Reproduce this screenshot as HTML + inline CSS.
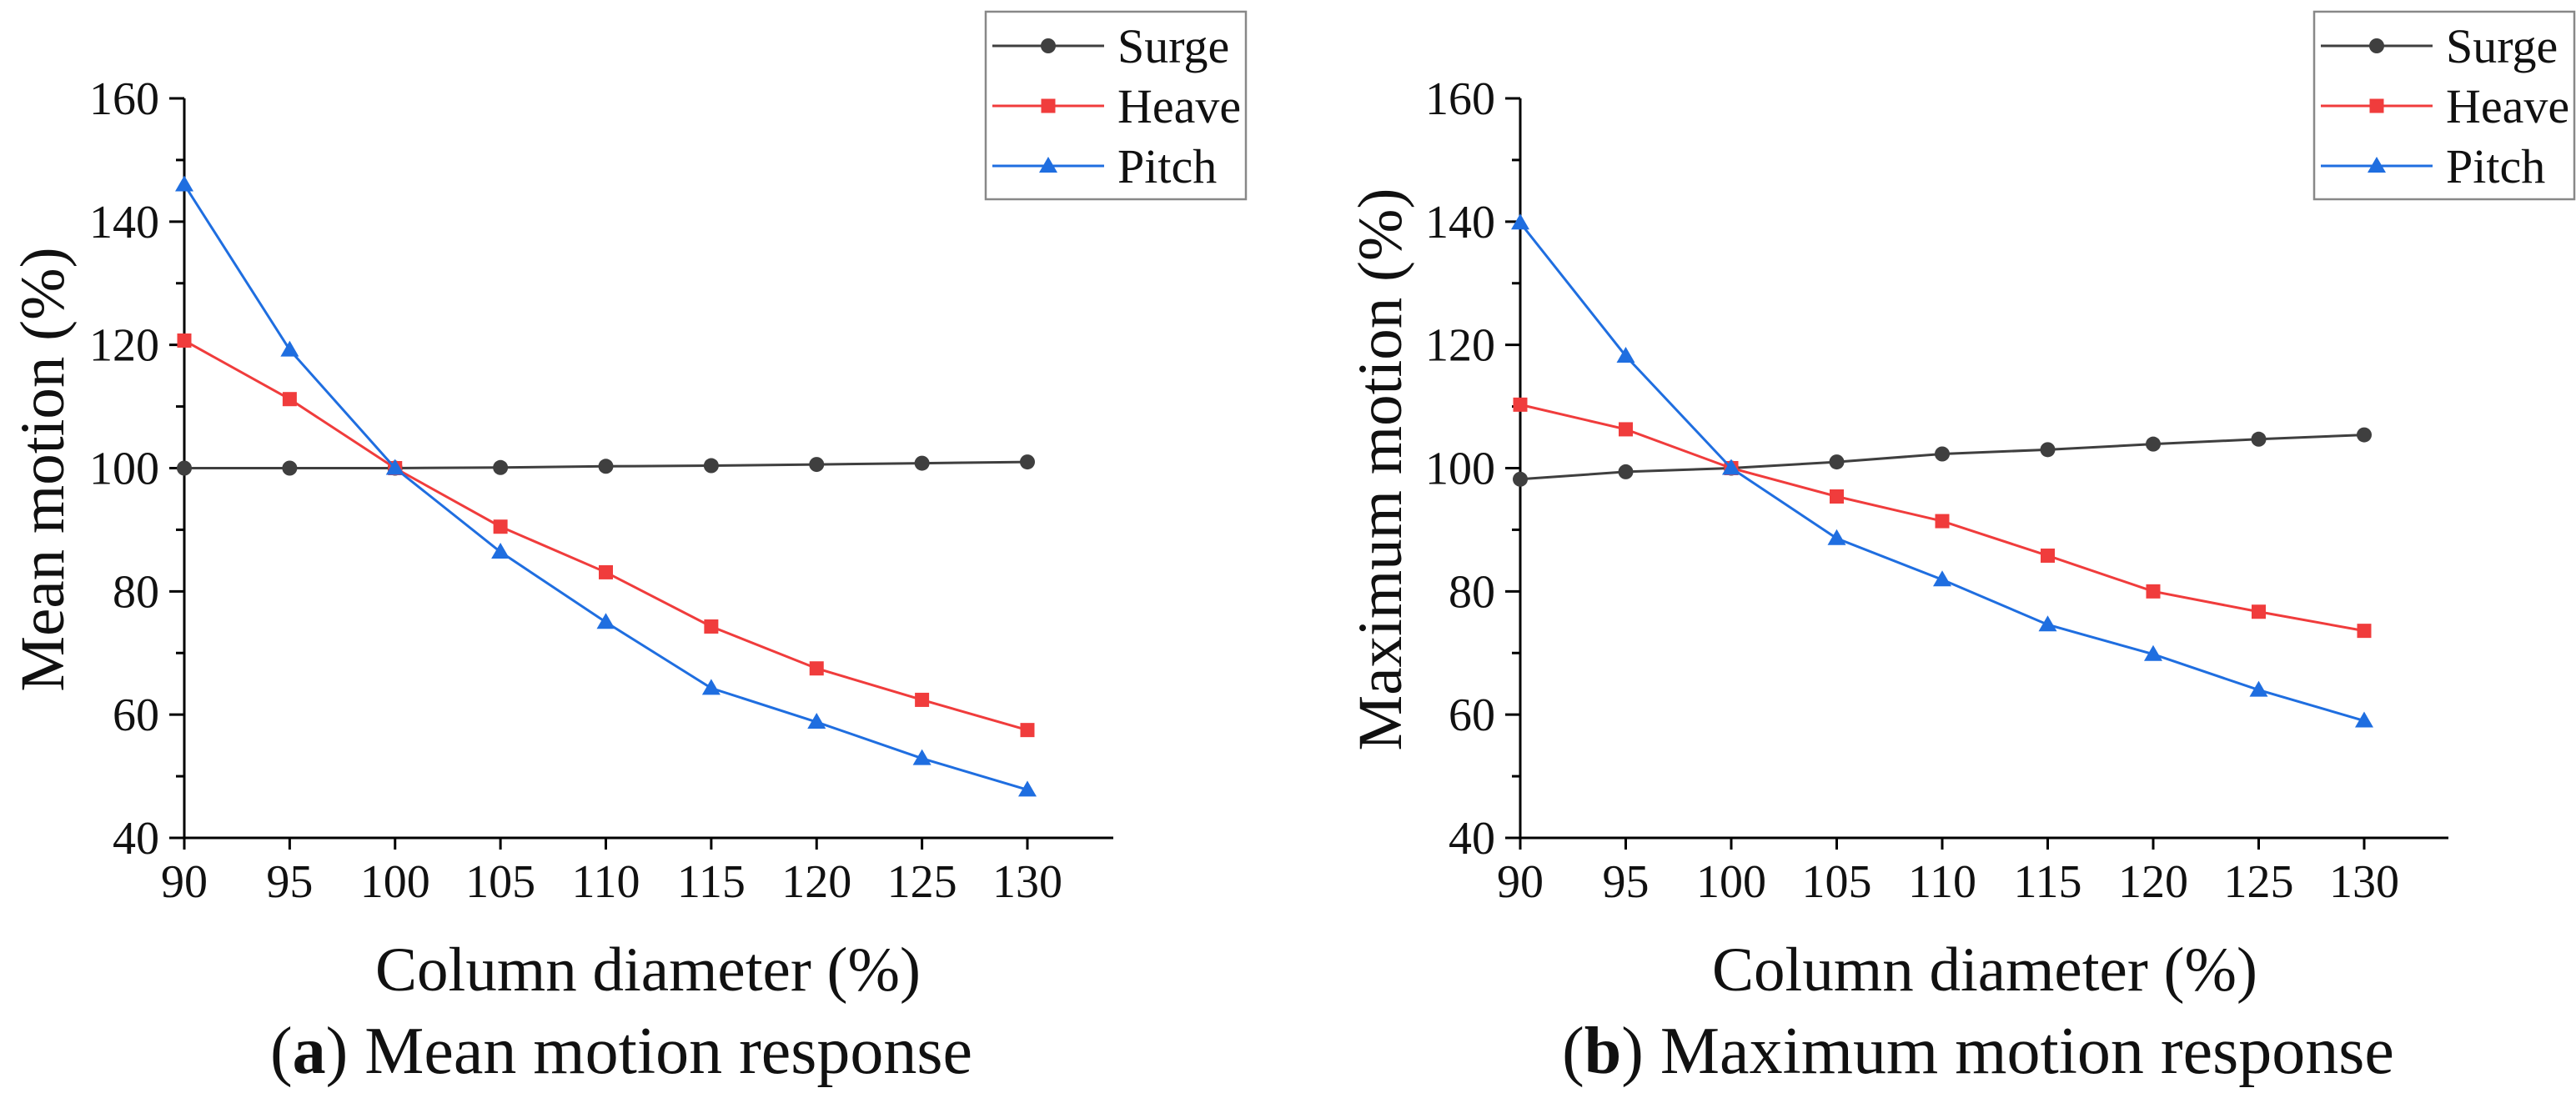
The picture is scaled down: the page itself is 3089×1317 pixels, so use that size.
<!DOCTYPE html>
<html><head><meta charset="utf-8"><style>
html,body{margin:0;padding:0;background:#fff;overflow:hidden;}
svg{display:block;font-family:"Liberation Serif","DejaVu Serif",serif;}
</style></head><body>
<svg id="root" width="3089" height="1317" viewBox="0 0 3089 1317" xmlns="http://www.w3.org/2000/svg"></svg>
<script>
const categories = [90, 95, 100, 105, 110, 115, 120, 125, 130];
const xTicks = [90, 95, 100, 105, 110, 115, 120, 125, 130];
const yTicks = [40, 60, 80, 100, 120, 140, 160];
const meanSurge = [100, 100, 100, 100.1, 100.3, 100.4, 100.6, 100.8, 101.0];
const meanHeave = [120.7, 111.2, 100, 90.5, 83.1, 74.3, 67.5, 62.4, 57.5];
const meanPitch = [146, 119.2, 100, 86.4, 75, 64.3, 58.8, 52.9, 47.8];
const maxSurge = [98.2, 99.4, 100, 101, 102.3, 103, 103.9, 104.7, 105.4];
const maxHeave = [110.3, 106.3, 100, 95.4, 91.4, 85.8, 80, 76.7, 73.6];
const maxPitch = [139.8, 118.2, 100, 88.6, 81.9, 74.6, 69.8, 64, 59];
const seriesNames = ["Surge", "Heave", "Pitch"];

const NS = "http://www.w3.org/2000/svg";
const root = document.getElementById('root');
function mk(tag, attrs, parent) {
  const e = document.createElementNS(NS, tag);
  for (const k in attrs) e.setAttribute(k, attrs[k]);
  (parent || root).appendChild(e);
  return e;
}
const colors = ["#3f3f3f", "#f03c3c", "#1f6ee0"];
const shapes = ["circle", "square", "triangle"];

function marker(g, shape, cx, cy, color) {
  let m;
  if (shape === "circle") m = mk('circle', {cx: cx, cy: cy, r: 9, fill: color}, g);
  else if (shape === "square") m = mk('rect', {x: cx - 8.5, y: cy - 8.5, width: 17, height: 17, fill: color}, g);
  else m = mk('polygon', {points: `${cx},${cy - 11} ${cx + 11},${cy + 8} ${cx - 11},${cy + 8}`, fill: color}, g);
  return m;
}

function panel(id, x0, x1, axisEnd, ytitleX, ytitle, xtitleX, capX, capLetter, capText, legX, series) {
  const g = mk('g', {});
  
  
  const yTop = 118, yBot = 1005;
  const xs = v => x0 + (v - 90) / 40 * (x1 - x0);
  const ys = v => yBot - (v - 40) / 120 * (yBot - yTop);
  const ax = mk('path', {d: `M${x0},${yTop} V${yBot} H${axisEnd}`, stroke: '#000', 'stroke-width': 3, fill: 'none'}, g);
  
  
  yTicks.forEach((t, i) => {
    const y = ys(t);
    mk('line', {x1: x0 - 18, x2: x0, y1: y, y2: y, stroke: '#000', 'stroke-width': 3}, g);
    if (i < yTicks.length - 1) {
      const ym = ys(t + 10);
      mk('line', {x1: x0 - 10, x2: x0, y1: ym, y2: ym, stroke: '#000', 'stroke-width': 3}, g);
    }
    const tx = mk('text', {x: x0 - 30, y: y + 19, 'font-size': 56, 'text-anchor': 'end', fill: '#111'}, g);
    tx.textContent = t;
    
    
  });
  xTicks.forEach(t => {
    const x = xs(t);
    mk('line', {x1: x, x2: x, y1: yBot, y2: yBot + 14, stroke: '#000', 'stroke-width': 3}, g);
    const tx = mk('text', {x: x, y: 1076, 'font-size': 56, 'text-anchor': 'middle', fill: '#111'}, g);
    tx.textContent = t;
    
    
  });
  const yt = mk('text', {x: 0, y: 0, 'font-size': 75, 'text-anchor': 'middle', transform: `translate(${ytitleX},563) rotate(-90)`, fill: '#111'}, g);
  yt.textContent = ytitle;
  
  
  const xt = mk('text', {x: xtitleX, y: 1188, 'font-size': 75, 'text-anchor': 'middle', fill: '#111'}, g);
  xt.textContent = 'Column diameter (%)';
  
  
  const cap = mk('text', {x: capX, y: 1287, 'font-size': 80, 'text-anchor': 'middle', fill: '#111'}, g);
  
  
  const t1 = mk('tspan', {}, cap); t1.textContent = '(';
  const t2 = mk('tspan', {'font-weight': 'bold'}, cap); t2.textContent = capLetter;
  const t3 = mk('tspan', {}, cap); t3.textContent = ') ' + capText;
  series.forEach((vals, si) => {
    const sg = mk('g', {}, g);
    
    
    const pts = vals.map((v, i) => xs(categories[i]) + ',' + ys(v)).join(' ');
    const pl = mk('polyline', {points: pts, fill: 'none', stroke: colors[si], 'stroke-width': 3}, sg);
    
    
    vals.forEach((v, i) => {
      const m = marker(sg, shapes[si], xs(categories[i]), ys(v), colors[si]);
      
      
    });
  });
  const lg = mk('g', {}, g);
  
  
  mk('rect', {x: legX, y: 14, width: 312, height: 225, fill: '#fff', stroke: '#888', 'stroke-width': 2.5}, lg);
  seriesNames.forEach((n, si) => {
    const y = 55 + si * 72;
    const le = mk('g', {}, lg);
    
    
    mk('line', {x1: legX + 8, x2: legX + 142, y1: y, y2: y, stroke: colors[si], 'stroke-width': 3}, le);
    marker(le, shapes[si], legX + 75, y, colors[si]);
    const tx = mk('text', {x: legX + 158, y: y + 20, 'font-size': 58, fill: '#111'}, le);
    tx.textContent = n;
  });
}
panel('panel-a-mean', 221, 1232, 1335, 76, 'Mean motion (%)', 777, 745, 'a', 'Mean motion response', 1182, [meanSurge, meanHeave, meanPitch]);
panel('panel-b-maximum', 1823, 2835, 2936, 1680, 'Maximum motion (%)', 2380, 2372, 'b', 'Maximum motion response', 2775, [maxSurge, maxHeave, maxPitch]);
</script>
</body></html>
